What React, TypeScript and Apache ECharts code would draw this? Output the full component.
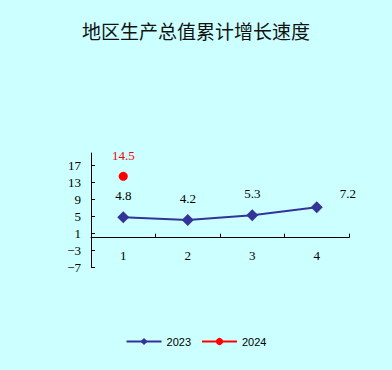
import React, { useEffect, useRef } from "react";
import * as echarts from "echarts";

const categories = ["1", "2", "3", "4"];
const values2023 = [4.8, 4.2, 5.3, 7.2];
const values2024: (number | null)[] = [14.5, null, null, null];
const titleText = "地区生产总值累计增长速度";
const seriesNames = ["2023", "2024"];

export default function App() {
  const ref = useRef<HTMLDivElement>(null);
  useEffect(() => {
    document.body.style.margin = "0";
    const chart = echarts.init(ref.current!, undefined, { renderer: "svg" });
    const serif = "'Liberation Serif', 'DejaVu Serif', serif";
    chart.setOption({
      animation: false,
      backgroundColor: "#CCFFFF",
      title: {
        text: titleText,
        left: "center",
        top: 16,
        textStyle: {
          fontFamily: "'Noto Sans CJK SC', sans-serif",
          fontSize: 19,
          fontWeight: "normal",
          color: "#111",
        },
      },
      legend: {
        bottom: 18,
        left: "center",
        itemWidth: 35,
        itemHeight: 9,
        itemGap: 10,
        textStyle: { fontSize: 11, color: "#000", fontFamily: "'Liberation Sans Narrow', 'Liberation Sans', sans-serif" },
        data: seriesNames,
      },
      grid: { left: 91, right: 43, top: 153, bottom: 102.7 },
      xAxis: {
        type: "category",
        data: categories,
        boundaryGap: true,
        axisLine: { onZero: true, lineStyle: { color: "#000", width: 1 } },
        axisTick: { show: true, inside: true, length: 4, interval: 0, lineStyle: { color: "#000" } },
        axisLabel: { margin: -18.5, fontSize: 13, color: "#000", fontFamily: serif },
        splitLine: { show: false },
      },
      yAxis: {
        type: "value",
        min: -7,
        max: 20,
        interval: 4,
        axisLine: { show: true, lineStyle: { color: "#000", width: 1 } },
        axisTick: { show: true, inside: true, length: 4, lineStyle: { color: "#000" } },
        axisLabel: {
          margin: 10,
          fontSize: 13,
          color: "#000",
          fontFamily: serif,
          showMaxLabel: false,
          formatter: (v: number) => String(v).replace("-", "\u2212"),
        },
        splitLine: { show: false },
      },
      series: [
        {
          name: seriesNames[0],
          type: "line",
          data: values2023.map((v, i) =>
            i === 3 ? { value: v, label: { offset: [31, 8] } } : v
          ),
          symbol: "diamond",
          symbolSize: 12,
          itemStyle: { color: "#333399" },
          lineStyle: { color: "#333399", width: 2 },
          label: {
            show: true,
            position: "top",
            distance: 9,
            fontSize: 13,
            color: "#000",
            fontFamily: serif,
          },
        },
        {
          name: seriesNames[1],
          type: "line",
          data: values2024,
          symbol: "circle",
          symbolSize: 9,
          itemStyle: { color: "#FF0000" },
          lineStyle: { color: "#FF0000", width: 2 },
          label: {
            show: true,
            position: "top",
            distance: 10,
            fontSize: 13,
            color: "#FF0000",
            fontFamily: serif,
          },
        },
      ],
    });
    return () => chart.dispose();
  }, []);
  return <div ref={ref} style={{ position: "fixed", left: 0, top: 0, width: 392, height: 370 }} />;
}
